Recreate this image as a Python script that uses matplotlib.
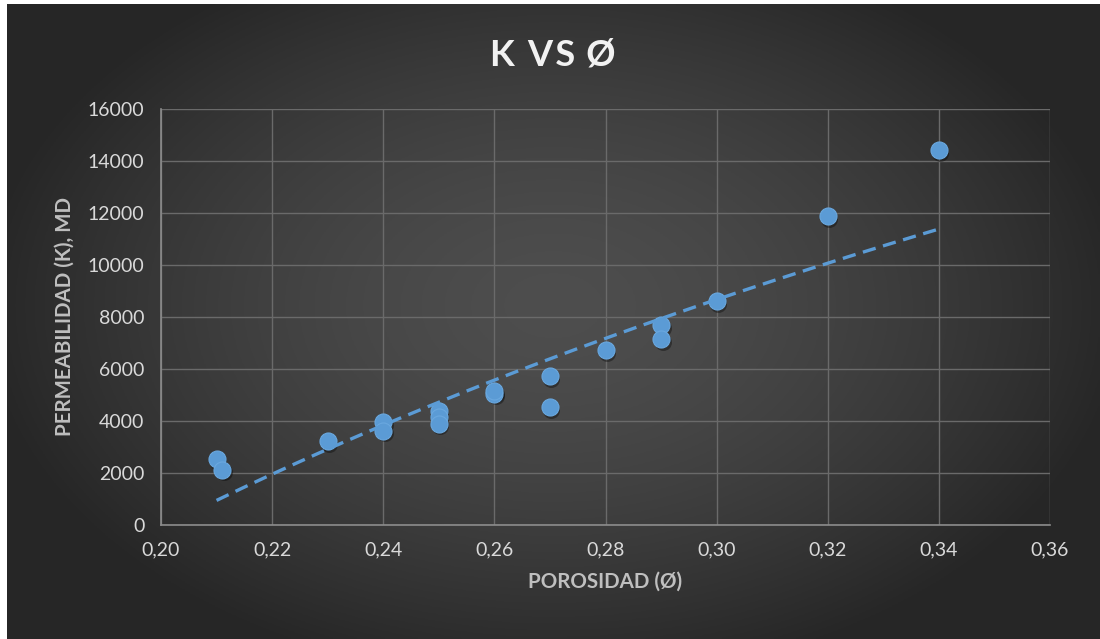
import numpy as np
import matplotlib
matplotlib.use("Agg")
import matplotlib.pyplot as plt
from matplotlib import transforms

plt.rcParams['font.family'] = ['Lato', 'DejaVu Sans']

# datos
porosidad = [0.21, 0.211, 0.23, 0.24, 0.24, 0.25, 0.25, 0.25, 0.26, 0.26,
             0.27, 0.27, 0.28, 0.29, 0.29, 0.30, 0.32, 0.34]
permeab = [2530, 2130, 3220, 3960, 3620, 4390, 4150, 3890, 5050, 5150,
           5730, 4520, 6730, 7680, 7150, 8610, 11870, 14420]
# linea de tendencia logaritmica (K = a ln(phi) + b)
tend_a = 21660
tend_b = 34750
x_ticks = [0.20, 0.22, 0.24, 0.26, 0.28, 0.30, 0.32, 0.34, 0.36]
y_ticks = [0, 2000, 4000, 6000, 8000, 10000, 12000, 14000, 16000]

azul = '#5b9bd5'

fig = plt.figure(figsize=(11, 6.39), dpi=100)
fig.patch.set_facecolor('white')

# fondo con degradado radial
bg = fig.add_axes([7/1100, 0, 1 - 7/1100, 1 - 4/639])
bg.set_axis_off()
gx, gy = np.meshgrid(np.linspace(-1, 1, 400), np.linspace(-1, 1, 240))
r = np.sqrt((gx / 1.05) ** 2 + ((gy + 0.05) / 1.2) ** 2)
r = np.clip(r, 0, 1)
c = 0.305 - 0.155 * r ** 1.6
bg.imshow(np.dstack([c, c, c]), aspect='auto', extent=[0, 1, 0, 1])
bg.set_xlim(0, 1)
bg.set_ylim(0, 1)

ax = fig.add_axes([161/1100, 1 - 525/639, (1050 - 161)/1100, (525 - 109)/639])
ax.patch.set_alpha(0)
ax.set_zorder(2)

x = np.array(porosidad)
y = np.array(permeab)

# sombra de los puntos
sombra = transforms.offset_copy(ax.transData, fig=fig, x=1.5, y=-2.5, units='dots')
ax.scatter(x, y, s=150, color='black', alpha=0.35, linewidths=0,
           transform=sombra, zorder=3)
ax.scatter(x, y, s=150, color=azul, edgecolors='#6aa8df', linewidths=0.8, zorder=4)

xt = np.linspace(x.min(), x.max(), 200)
ax.plot(xt, tend_a * np.log(xt) + tend_b, color=azul, lw=2.4, dashes=(4, 2.3), zorder=5)

ax.set_xlim(0.20, 0.36)
ax.set_ylim(0, 16000)
ax.set_xticks(x_ticks)
ax.set_yticks(y_ticks)
ax.set_xticklabels([f"{v:.2f}".replace('.', ',') for v in x_ticks])
ax.set_yticklabels([str(v) for v in y_ticks])
ax.tick_params(length=0, colors='#d9d9d9', labelsize=14, pad=12)
ax.grid(True, color='#6a6a6a', lw=1)
ax.set_axisbelow(True)
for s in ['top', 'right']:
    ax.spines[s].set_visible(False)
for s in ['left', 'bottom']:
    ax.spines[s].set_color('#8c8c8c')
    ax.spines[s].set_linewidth(1.2)

ax.set_xlabel('POROSIDAD (Ø)', color='#bfbfbf', fontsize=14.8, fontweight='bold', labelpad=9)
ax.set_ylabel('PERMEABILIDAD (K), MD', color='#bfbfbf', fontsize=14.8, fontweight='bold', labelpad=9)

titulo = fig.text(553/1100, 1 - 55/639, 'K\u200a \u200aV\u200aS \u200aØ', color='#f2f2f2', fontsize=26,
                  fontweight='bold', ha='center', va='center')

fig.savefig('out.png', dpi=100)
